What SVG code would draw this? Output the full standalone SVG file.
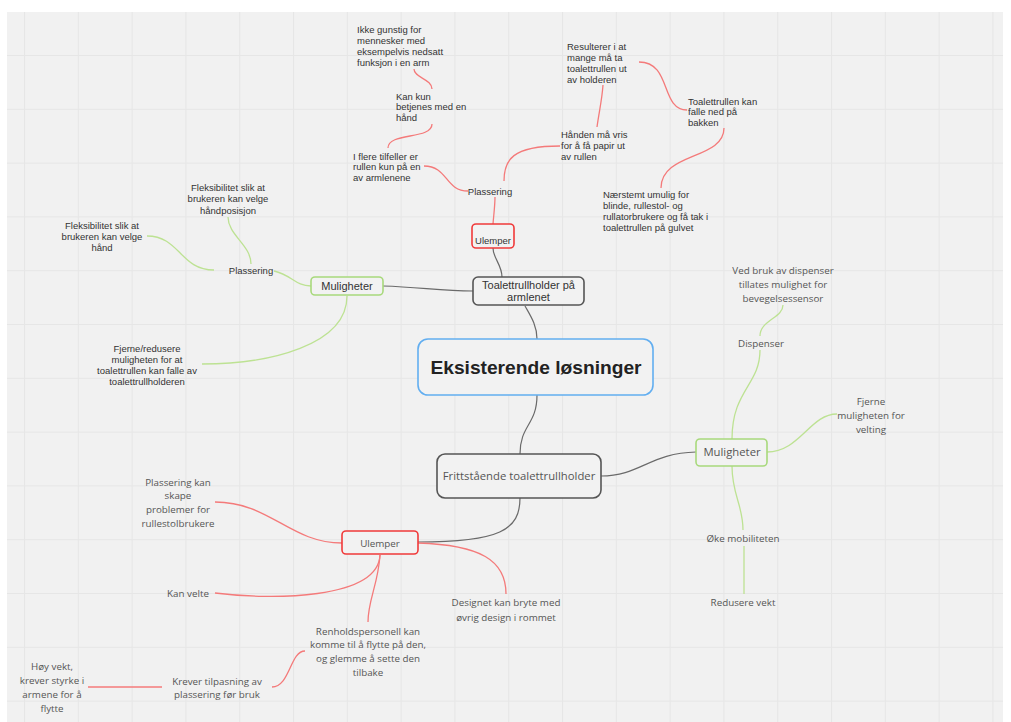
<svg xmlns="http://www.w3.org/2000/svg" width="1011" height="722" viewBox="0 0 1011 722">
<style>
.a{font-family:"Liberation Sans",Arial,sans-serif;fill:#333;font-size:9.5px}
.o{font-family:"Open Sans","Liberation Sans",sans-serif;fill:#555;font-size:9.8px}
.c{text-anchor:middle}
.big{font-size:11px}
.obig{font-size:11.3px}
.r{fill:none;stroke:#f47a7a;stroke-width:1.3}
.g{fill:none;stroke:#bde293;stroke-width:1.3}
.k{fill:none;stroke:#6a6a6a;stroke-width:1.2}
.bx{fill:#f2f2f2;stroke-width:1.6}
</style>
<defs>
<pattern id="grid" x="24" y="55" width="53.8" height="53.8" patternUnits="userSpaceOnUse">
<path d="M0.5,0 V53.8 M0,0.5 H53.8" fill="none" stroke="#e6e6e6" stroke-width="1.2"/>
</pattern>
</defs>
<rect x="0" y="0" width="1011" height="722" fill="#ffffff"/>
<rect x="7" y="12" width="996" height="710" fill="#f1f1f1"/>
<rect x="7" y="12" width="996" height="710" fill="url(#grid)"/>

<g id="connectors">
<path class="r" d="M493,224 C494,212 495,205 495,197"/>
<path class="r" d="M468,191 C445,191 448,166 424,166"/>
<path class="r" d="M388,148 C388,132 432,140 432,124"/>
<path class="r" d="M432,89 C432,79 414,78 414,69"/>
<path class="r" d="M504,181 C504,160 512,146 560,146"/>
<path class="r" d="M597,127 C599,112 602,100 603,85"/>
<path class="r" d="M639,62 C672,62 660,110 687,110"/>
<path class="r" d="M724,128 C724,160 661,152 661,188"/>
<path class="k" d="M502,277 C502,265 493,258 493,248"/>
<path class="g" d="M274,271 C292,275 295,286 311,286"/>
<path class="g" d="M214,270 C180,270 180,236 147,236"/>
<path class="g" d="M251,264 C251,245 228,235 228,217"/>
<path class="g" d="M347,296 C347,345 270,364 202,364"/>
<path class="k" d="M383,286 C420,287 440,291 473,291"/>
<path class="k" d="M525,306 C530,315 537,325 537,339"/>
<path class="k" d="M537,395 C537,425 520,425 520,454"/>
<path class="k" d="M601,476 C640,476 650,453 696,452"/>
<path class="k" d="M520,498 C520,530 500,542 418,542"/>
<path class="r" d="M418,543 C480,545 506,560 506,594"/>
<path class="r" d="M342,543 C290,543 270,502 215,502"/>
<path class="r" d="M380,555 C378,600 270,600 215,593"/>
<path class="r" d="M380,555 C378,585 368,600 368,622"/>
<path class="r" d="M305,651 C290,651 290,687 272,687"/>
<path class="r" d="M162,687 L88,687"/>
<path class="g" d="M732,439 C732,390 760,385 760,350"/>
<path class="g" d="M760,336 C760,320 783,318 783,305"/>
<path class="g" d="M767,452 C800,452 810,414 837,414"/>
<path class="g" d="M732,466 C732,495 743,505 743,530"/>
<path class="g" d="M744,546 L744,594"/>
</g>

<g id="center">
<rect class="bx" x="418" y="339" width="235" height="56" rx="10" stroke="#62aef0"/>
<text x="536" y="374" text-anchor="middle" font-family="Liberation Sans,Arial,sans-serif" font-weight="bold" font-size="19.2" fill="#222">Eksisterende løsninger</text>
</g>

<g id="armlenet">
<rect class="bx" x="473" y="277" width="111" height="28" rx="5" stroke="#555"/>
<text class="a c big" x="528.5" y="289">Toalettrullholder på</text>
<text class="a c big" x="528.5" y="300.5">armlenet</text>
</g>

<g id="ulemper-top">
<rect class="bx" x="472" y="224" width="42" height="24" rx="4" stroke="#f03a3a"/>
<text class="a c" x="493" y="244">Ulemper</text>
</g>
<g id="plassering-top"><text class="a c" x="490" y="195">Plassering</text></g>
<g id="iflere">
<text class="a" x="353" y="159.5">I flere tilfeller er</text>
<text class="a" x="353" y="170.3">rullen kun på en</text>
<text class="a" x="353" y="181.1">av armlenene</text>
</g>
<g id="kankun">
<text class="a" x="396" y="99.5">Kan kun</text>
<text class="a" x="396" y="110.3">betjenes med en</text>
<text class="a" x="396" y="121.1">hånd</text>
</g>
<g id="ikke">
<text class="a" x="357" y="32.5">Ikke gunstig for</text>
<text class="a" x="357" y="43.8">mennesker med</text>
<text class="a" x="357" y="55.1">eksempelvis nedsatt</text>
<text class="a" x="357" y="66.4">funksjon i en arm</text>
</g>
<g id="haanden">
<text class="a" x="561" y="137.5">Hånden må vris</text>
<text class="a" x="561" y="148.8">for å få papir ut</text>
<text class="a" x="561" y="160">av rullen</text>
</g>
<g id="resulterer">
<text class="a" x="567" y="49.5">Resulterer i at</text>
<text class="a" x="567" y="60.5">mange må ta</text>
<text class="a" x="567" y="71.5">toalettrullen ut</text>
<text class="a" x="567" y="82.5">av holderen</text>
</g>
<g id="falle">
<text class="a" x="688" y="104.5">Toalettrullen kan</text>
<text class="a" x="688" y="115">falle ned på</text>
<text class="a" x="688" y="125.5">bakken</text>
</g>
<g id="naerstemt">
<text class="a" x="603" y="197.5">Nærstemt umulig for</text>
<text class="a" x="603" y="208.5">blinde, rullestol- og</text>
<text class="a" x="603" y="219.5">rullatorbrukere og få tak i</text>
<text class="a" x="603" y="230.5">toalettrullen på gulvet</text>
</g>

<g id="muligheter-left">
<rect class="bx" x="311" y="277" width="72" height="18" rx="4" stroke="#a8d97c"/>
<text class="a c big" x="347" y="290">Muligheter</text>
</g>
<g id="plassering-left"><text class="a c" x="251" y="273.5">Plassering</text></g>
<g id="flex-haand">
<text class="a c" x="102" y="228.5">Fleksibilitet slik at</text>
<text class="a c" x="102" y="239.5">brukeren kan velge</text>
<text class="a c" x="102" y="250.5">hånd</text>
</g>
<g id="flex-pos">
<text class="a c" x="228" y="190.5">Fleksibilitet slik at</text>
<text class="a c" x="228" y="202.2">brukeren kan velge</text>
<text class="a c" x="228" y="213.9">håndposisjon</text>
</g>
<g id="fjerne-redusere">
<text class="a c" x="147" y="351.5">Fjerne/redusere</text>
<text class="a c" x="147" y="362.5">muligheten for at</text>
<text class="a c" x="147" y="373.5">toalettrullen kan falle av</text>
<text class="a c" x="147" y="384.5">toalettrullholderen</text>
</g>

<g id="frittstaaende">
<rect class="bx" x="437" y="454" width="164" height="44" rx="8" stroke="#555"/>
<text class="o c obig" x="519" y="480">Frittstående toalettrullholder</text>
</g>

<g id="muligheter-right">
<rect class="bx" x="696" y="439" width="71" height="27" rx="4" stroke="#a8d97c"/>
<text class="o c obig" x="732" y="456">Muligheter</text>
</g>
<g id="dispenser"><text class="o c" x="761" y="346.5">Dispenser</text></g>
<g id="vedbruk">
<text class="o c" x="783" y="273.5">Ved bruk av dispenser</text>
<text class="o c" x="783" y="287.5">tillates mulighet for</text>
<text class="o c" x="783" y="301.5">bevegelsessensor</text>
</g>
<g id="fjerne-velting">
<text class="o c" x="871" y="404.5">Fjerne</text>
<text class="o c" x="871" y="418.5">muligheten for</text>
<text class="o c" x="871" y="432.5">velting</text>
</g>
<g id="oke"><text class="o c" x="743" y="541.5">Øke mobiliteten</text></g>
<g id="redusere"><text class="o c" x="743" y="605.5">Redusere vekt</text></g>

<g id="ulemper-bottom">
<rect class="bx" x="342" y="531" width="76" height="23" rx="4" stroke="#f03a3a"/>
<text class="o c" x="380" y="546.5">Ulemper</text>
</g>
<g id="plassering-kan">
<text class="o c" x="178" y="485.5">Plassering kan</text>
<text class="o c" x="178" y="499.3">skape</text>
<text class="o c" x="178" y="513.1">problemer for</text>
<text class="o c" x="178" y="526.9">rullestolbrukere</text>
</g>
<g id="kanvelte"><text class="o c" x="188" y="596.5">Kan velte</text></g>
<g id="renhold">
<text class="o c" x="368" y="634.5">Renholdspersonell kan</text>
<text class="o c" x="368" y="648.2">komme til å flytte på den,</text>
<text class="o c" x="368" y="661.9">og glemme å sette den</text>
<text class="o c" x="368" y="675.6">tilbake</text>
</g>
<g id="krever">
<text class="o c" x="217" y="684.5">Krever tilpasning av</text>
<text class="o c" x="217" y="697.8">plassering før bruk</text>
</g>
<g id="hoyvekt">
<text class="o c" x="52" y="669.5">Høy vekt,</text>
<text class="o c" x="52" y="683.5">krever styrke i</text>
<text class="o c" x="52" y="697.5">armene for å</text>
<text class="o c" x="52" y="711.5">flytte</text>
</g>
<g id="designet">
<text class="o c" x="506" y="605.5">Designet kan bryte med</text>
<text class="o c" x="506" y="620.5">øvrig design i rommet</text>
</g>
</svg>
